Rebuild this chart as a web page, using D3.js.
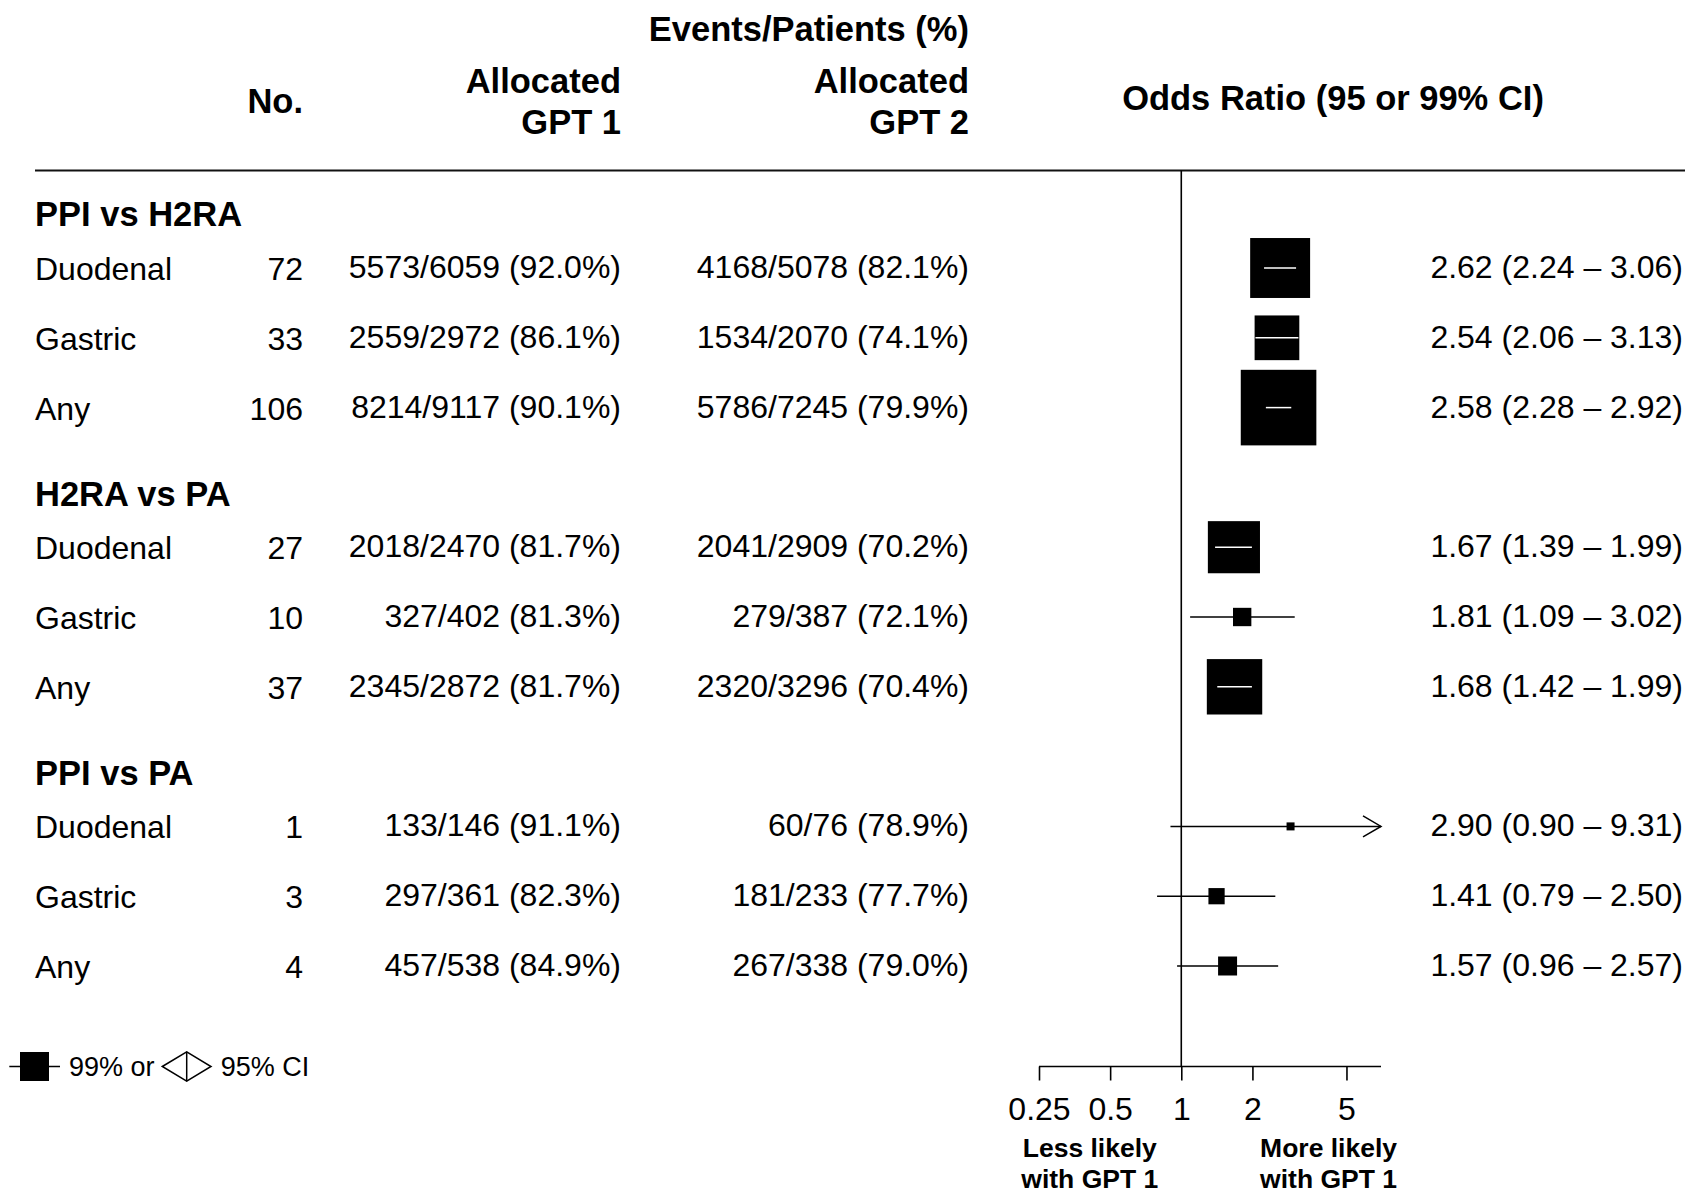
<!DOCTYPE html>
<html>
<head>
<meta charset="utf-8">
<script src="https://cdn.jsdelivr.net/npm/d3@7"></script>
<style>
  html, body { margin: 0; padding: 0; background: #fff; }
  svg text { font-family: "Liberation Sans", Arial, Helvetica, sans-serif; fill: #000; }
</style>
</head>
<body>
<svg id="chart" width="1705" height="1195"></svg>
<script>
// ---------------- DATA ----------------
const groups = ["PPI vs H2RA", "H2RA vs PA", "PPI vs PA"];
const rowGroup = [0, 0, 0, 1, 1, 1, 2, 2, 2];
const rowSlot = [0, 1, 2, 4, 5, 6, 8, 9, 10];
const ulcerType = ["Duodenal", "Gastric", "Any", "Duodenal", "Gastric", "Any", "Duodenal", "Gastric", "Any"];
const trialsNo = [72, 33, 106, 27, 10, 37, 1, 3, 4];
const gpt1Events = [5573, 2559, 8214, 2018, 327, 2345, 133, 297, 457];
const gpt1Patients = [6059, 2972, 9117, 2470, 402, 2872, 146, 361, 538];
const gpt2Events = [4168, 1534, 5786, 2041, 279, 2320, 60, 181, 267];
const gpt2Patients = [5078, 2070, 7245, 2909, 387, 3296, 76, 233, 338];
const oddsRatio = [2.62, 2.54, 2.58, 1.67, 1.81, 1.68, 2.90, 1.41, 1.57];
const ciLow = [2.24, 2.06, 2.28, 1.39, 1.09, 1.42, 0.90, 0.79, 0.96];
const ciHigh = [3.06, 3.13, 2.92, 1.99, 3.02, 1.99, 9.31, 2.50, 2.57];
const axisTicks = [0.25, 0.5, 1, 2, 5];
const axisTickLabels = ["0.25", "0.5", "1", "2", "5"];
const axisDomain = [0.25, 7];

// ---------------- LAYOUT ----------------
const svg = d3.select("#chart");
svg.append("rect").attr("width", 1705).attr("height", 1195).attr("fill", "#fff");

const FONT = 32, BOLD = 34.5, SMALL = 26.5;

const x = d3.scaleLog().domain(axisDomain).range([1039, 1381]);
const y = d3.scaleLinear().domain([0, 10]).range([268, 966]);
// box side proportional to precision (1 / log CI width)
const boxSize = d3.scaleLinear().domain([0, 1]).range([0, 18.7]);

const rows = ulcerType.map((t, i) => ({
  type: t, group: rowGroup[i], slot: rowSlot[i], n: trialsNo[i],
  e1: gpt1Events[i], p1: gpt1Patients[i], e2: gpt2Events[i], p2: gpt2Patients[i],
  or: oddsRatio[i], lo: ciLow[i], hi: ciHigh[i]
}));

// ---------------- HEADER ----------------
const hdr = svg.append("g").attr("font-weight", "bold").attr("font-size", BOLD);
hdr.append("text").attr("x", 969).attr("y", 41).attr("text-anchor", "end").text("Events/Patients (%)");
hdr.append("text").attr("x", 621).attr("y", 93).attr("text-anchor", "end").text("Allocated");
hdr.append("text").attr("x", 621).attr("y", 134).attr("text-anchor", "end").text("GPT 1");
hdr.append("text").attr("x", 969).attr("y", 93).attr("text-anchor", "end").text("Allocated");
hdr.append("text").attr("x", 969).attr("y", 134).attr("text-anchor", "end").text("GPT 2");
hdr.append("text").attr("x", 303).attr("y", 113).attr("text-anchor", "end").text("No.");
hdr.append("text").attr("x", 1333).attr("y", 110).attr("text-anchor", "middle").text("Odds Ratio (95 or 99% CI)");

// rule
svg.append("line").attr("x1", 35).attr("x2", 1685).attr("y1", 170.5).attr("y2", 170.5)
  .attr("stroke", "#111").attr("stroke-width", 2);

// group headings
groups.forEach((g, gi) => {
  const first = rows.find(r => r.group === gi);
  svg.append("text").attr("x", 35).attr("y", y(first.slot) - 54 + 12.4)
    .attr("font-size", BOLD).attr("font-weight", "bold").text(g);
});

// ---------------- TABLE TEXT ----------------
const pct = (e, p) => `${e}/${p} (${(100 * e / p).toFixed(1)}%)`;
const tbl = svg.append("g").attr("font-size", FONT);
rows.forEach(r => {
  const cy = y(r.slot);
  tbl.append("text").attr("x", 35).attr("y", cy + 12).text(r.type);
  tbl.append("text").attr("x", 303).attr("y", cy + 12).attr("text-anchor", "end").text(r.n);
  tbl.append("text").attr("x", 621).attr("y", cy + 10).attr("text-anchor", "end").text(pct(r.e1, r.p1));
  tbl.append("text").attr("x", 969).attr("y", cy + 10).attr("text-anchor", "end").text(pct(r.e2, r.p2));
  tbl.append("text").attr("x", 1683).attr("y", cy + 10).attr("text-anchor", "end")
    .text(`${r.or.toFixed(2)} (${r.lo.toFixed(2)} \u2013 ${r.hi.toFixed(2)})`);
});

// ---------------- FOREST PLOT ----------------
const axisY = 1066.5;
// reference line at OR = 1
svg.append("line").attr("x1", x(1)).attr("x2", x(1)).attr("y1", 170.5).attr("y2", axisY)
  .attr("stroke", "#000").attr("stroke-width", 1.6);

const plot = svg.append("g");
rows.forEach(r => {
  const cy = y(r.slot);
  const s = boxSize(1 / Math.log(r.hi / r.lo));
  const cx = x(r.or);
  const hiClip = Math.min(r.hi, axisDomain[1]);
  const loClip = Math.max(r.lo, axisDomain[0]);
  const x1 = x(loClip), x2 = x(hiClip);
  const inside = (x1 >= cx - s / 2) && (x2 <= cx + s / 2);
  if (!inside) {
    plot.append("line").attr("x1", x1).attr("x2", x2).attr("y1", cy).attr("y2", cy)
      .attr("stroke", "#000").attr("stroke-width", 1.5);
    if (r.hi > axisDomain[1]) {
      plot.append("path")
        .attr("d", `M${x2 - 18},${cy - 10.5}L${x2},${cy}L${x2 - 18},${cy + 10.5}`)
        .attr("fill", "none").attr("stroke", "#000").attr("stroke-width", 1.5);
    }
  }
  plot.append("rect").attr("x", cx - s / 2).attr("y", cy - s / 2).attr("width", s).attr("height", s)
    .attr("fill", "#000");
  if (inside) {
    plot.append("line").attr("x1", x1).attr("x2", x2).attr("y1", cy).attr("y2", cy)
      .attr("stroke", "#fff").attr("stroke-width", 1.5);
  }
});

// ---------------- AXIS ----------------
const axis = d3.axisBottom(x).tickValues(axisTicks)
  .tickFormat((d, i) => axisTickLabels[i]).tickSize(14).tickPadding(8).tickSizeOuter(0);
const ax = svg.append("g").attr("transform", `translate(0,${axisY})`).call(axis);
ax.select(".domain").attr("stroke", "#000").attr("stroke-width", 1.6)
  .attr("d", `M${x(axisDomain[0])},0H${x(axisDomain[1])}`);
ax.selectAll(".tick line").attr("stroke", "#000").attr("stroke-width", 1.6);
ax.selectAll(".tick text").attr("font-size", FONT).attr("fill", "#000")
  .attr("font-family", "Liberation Sans, Arial, sans-serif").attr("dy", null).attr("y", 53);

const lab = svg.append("g").attr("font-size", SMALL).attr("font-weight", "bold").attr("text-anchor", "middle");
lab.append("text").attr("x", x(0.41)).attr("y", 1157).text("Less likely");
lab.append("text").attr("x", x(0.41)).attr("y", 1188).text("with GPT 1");
lab.append("text").attr("x", x(4.2)).attr("y", 1157).text("More likely");
lab.append("text").attr("x", x(4.2)).attr("y", 1188).text("with GPT 1");

// ---------------- LEGEND ----------------
const lg = svg.append("g");
const ly = 1066.5;
lg.append("line").attr("x1", 9.3).attr("x2", 60).attr("y1", ly).attr("y2", ly).attr("stroke", "#000").attr("stroke-width", 1.5);
lg.append("rect").attr("x", 20).attr("y", ly - 14.5).attr("width", 29).attr("height", 29).attr("fill", "#000");
lg.append("text").attr("x", 69).attr("y", ly + 9.5).attr("font-size", 27).text("99% or");
lg.append("path").attr("d", `M162.3,${ly}L186.7,${ly - 14.7}L211,${ly}L186.7,${ly + 14.7}Z`)
  .attr("fill", "#fff").attr("stroke", "#000").attr("stroke-width", 1.5);
lg.append("line").attr("x1", 186.7).attr("x2", 186.7).attr("y1", ly - 14.7).attr("y2", ly + 14.7)
  .attr("stroke", "#000").attr("stroke-width", 1.5);
lg.append("text").attr("x", 220.7).attr("y", ly + 9.5).attr("font-size", 27).text("95% CI");
</script>
</body>
</html>
